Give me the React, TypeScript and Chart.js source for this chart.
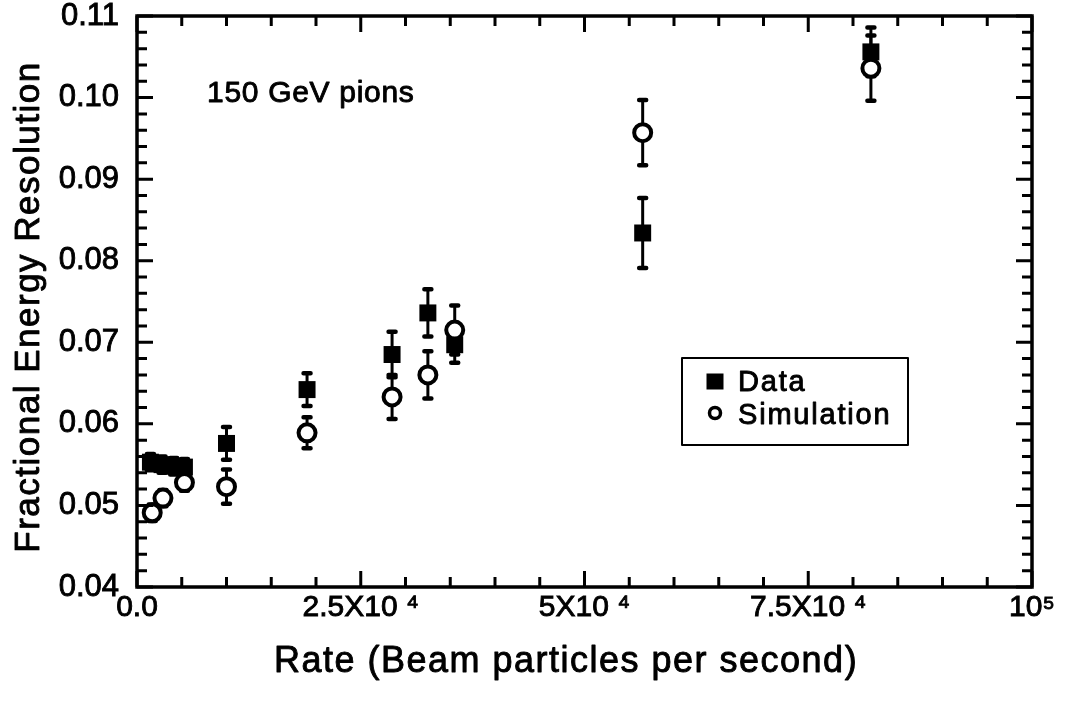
import React, { useEffect, useRef } from "react";
import { Chart, registerables } from "chart.js";

Chart.register(...registerables);

// ---- Data ----
const dataX = [1500, 2800, 4100, 5300, 10000, 19000, 28500, 32500, 35500, 56500, 82000];
const dataY = [0.0553, 0.055, 0.0548, 0.0547, 0.0576, 0.0642, 0.0685, 0.0736, 0.0697, 0.0834, 0.1056];
const dataErr = [0.001, 0.001, 0.001, 0.001, 0.002, 0.002, 0.0028, 0.0029, 0.0022, 0.0043, 0.003];

const simX = [1700, 2900, 5300, 10000, 19000, 28500, 32500, 35500, 56500, 82000];
const simY = [0.0491, 0.0509, 0.0528, 0.0523, 0.0589, 0.0633, 0.066, 0.0715, 0.0957, 0.1036];
const simErr = [0.001, 0.001, 0.001, 0.0021, 0.0019, 0.0027, 0.0029, 0.003, 0.004, 0.004];

const xTickValues = [0, 25000, 50000, 75000, 100000];
const xTickLabels = ["0.0", "2.5X10 \u2074", "5X10 \u2074", "7.5X10 \u2074", "10\u2075"];
const yTickValues = [0.04, 0.05, 0.06, 0.07, 0.08, 0.09, 0.1, 0.11];
const yTickLabels = ["0.04", "0.05", "0.06", "0.07", "0.08", "0.09", "0.10", "0.11"];
const xMinorStep = 5000;
const yMinorStep = 0.002;

const seriesNames = ["Data", "Simulation"];
const annotationText = "150 GeV pions";
const xTitle = "Rate (Beam particles per second)";
const yTitle = "Fractional Energy Resolution";

const FONT = "'Liberation Sans', Arial, Helvetica, sans-serif";

function boldText(ctx: CanvasRenderingContext2D, text: string, x: number, y: number) {
  ctx.fillText(text, x, y);
  ctx.strokeText(text, x, y);
}

export default function App() {
  const ref = useRef<HTMLCanvasElement>(null);

  useEffect(() => {
    document.body.style.margin = "0";
    const canvas = ref.current!;

    const errorBars = {
      id: "errorBars",
      beforeDatasetsDraw(chart: any) {
        const { ctx } = chart;
        const xs = chart.scales.x;
        const ys = chart.scales.y;
        chart.data.datasets.forEach((ds: any) => {
          const errs: number[] = ds.errors || [];
          ds.data.forEach((p: any, i: number) => {
            const e = errs[i] || 0;
            const px = xs.getPixelForValue(p.x);
            const y1 = ys.getPixelForValue(p.y + e);
            const y2 = ys.getPixelForValue(p.y - e);
            ctx.save();
            ctx.strokeStyle = "#000";
            ctx.lineWidth = 3;
            ctx.beginPath();
            ctx.moveTo(px, y1);
            ctx.lineTo(px, y2);
            ctx.stroke();
            ctx.lineWidth = 4.5;
            ctx.lineCap = "round";
            ctx.beginPath();
            ctx.moveTo(px - 3.5, y1);
            ctx.lineTo(px + 3.5, y1);
            ctx.moveTo(px - 3.5, y2);
            ctx.lineTo(px + 3.5, y2);
            ctx.stroke();
            ctx.restore();
          });
        });
      },
    };

    const frame = {
      id: "frame",
      afterDraw(chart: any) {
        const { ctx, chartArea } = chart;
        const { left, right, top, bottom } = chartArea;
        const xs = chart.scales.x;
        const ys = chart.scales.y;
        ctx.save();
        ctx.strokeStyle = "#000";
        ctx.lineWidth = 3.5;
        ctx.strokeRect(left, top, right - left, bottom - top);

        ctx.lineWidth = 3;
        // x ticks (bottom & top, inward)
        for (let k = 0; k * xMinorStep <= xs.max; k++) {
          const v = k * xMinorStep;
          const px = xs.getPixelForValue(v);
          const major = k % 5 === 0;
          const len = major ? 16 : 10;
          ctx.beginPath();
          ctx.moveTo(px, bottom);
          ctx.lineTo(px, bottom - len);
          ctx.moveTo(px, top);
          ctx.lineTo(px, top + len);
          ctx.stroke();
        }
        // y ticks (left & right, inward)
        const nY = Math.round((ys.max - ys.min) / yMinorStep);
        for (let k = 0; k <= nY; k++) {
          const v = ys.min + k * yMinorStep;
          const py = ys.getPixelForValue(v);
          const major = k % 5 === 0;
          const len = major ? 16 : 10;
          ctx.beginPath();
          ctx.moveTo(left, py);
          ctx.lineTo(left + len, py);
          ctx.moveTo(right, py);
          ctx.lineTo(right - len, py);
          ctx.stroke();
        }

        // Axis titles
        ctx.fillStyle = "#000";
        ctx.lineWidth = 0.9;
        ctx.lineJoin = "round";
        (ctx as any).letterSpacing = "1.5px";
        ctx.font = `36px ${FONT}`;
        ctx.textAlign = "center";
        ctx.textBaseline = "alphabetic";
        boldText(ctx, xTitle, 566, 672);

        ctx.save();
        ctx.font = `35px ${FONT}`;
        ctx.translate(39, 307);
        ctx.rotate(-Math.PI / 2);
        boldText(ctx, yTitle, 0, 0);
        ctx.restore();

        // Annotation
        (ctx as any).letterSpacing = "0.7px";
        ctx.font = `30px ${FONT}`;
        ctx.textAlign = "left";
        boldText(ctx, annotationText, 207, 102);

        // Legend
        ctx.lineWidth = 2;
        ctx.strokeRect(682, 358, 226, 87);
        ctx.fillRect(706.5, 373.5, 17, 16);
        ctx.lineWidth = 3.5;
        ctx.beginPath();
        ctx.arc(715, 413, 5.5, 0, Math.PI * 2);
        ctx.stroke();
        (ctx as any).letterSpacing = "1.8px";
        ctx.font = `29px ${FONT}`;
        ctx.lineWidth = 0.9;
        boldText(ctx, seriesNames[0], 738, 391);
        boldText(ctx, seriesNames[1], 738, 424);
        (ctx as any).letterSpacing = "0px";
        ctx.restore();
      },
    };

    const chart = new Chart(canvas, {
      type: "scatter",
      data: {
        datasets: [
          {
            label: seriesNames[0],
            data: dataX.map((x, i) => ({ x, y: dataY[i] })),
            errors: dataErr,
            pointStyle: "rect",
            pointRadius: 12,
            pointHoverRadius: 12,
            backgroundColor: "#000",
            borderColor: "#000",
            borderWidth: 0,
            order: 1,
          } as any,
          {
            label: seriesNames[1],
            data: simX.map((x, i) => ({ x, y: simY[i] })),
            errors: simErr,
            pointStyle: "circle",
            pointRadius: 8.5,
            pointHoverRadius: 8.5,
            backgroundColor: "#fff",
            borderColor: "#000",
            borderWidth: 4,
            order: 0,
          } as any,
        ],
      },
      options: {
        responsive: false,
        animation: false,
        devicePixelRatio: 1,
        events: [],
        layout: { padding: { left: 0, right: 35, top: 16, bottom: 0 }, autoPadding: false } as any,
        plugins: {
          legend: { display: false },
          tooltip: { enabled: false },
          title: { display: false },
        },
        scales: {
          x: {
            type: "linear",
            min: 0,
            max: 100000,
            grid: { display: false, drawTicks: false },
            border: { display: false },
            ticks: {
              padding: 3,
              color: "#000",
              autoSkip: false,
              maxRotation: 0,
              textStrokeColor: "#000",
              textStrokeWidth: 0.9,
              font: { family: FONT, size: 30 },
              callback: (v: any) => {
                const i = xTickValues.findIndex((t) => Math.abs(t - Number(v)) < 1e-6);
                return i >= 0 ? xTickLabels[i] : "";
              },
            } as any,
            afterBuildTicks: (s: any) => {
              s.ticks = xTickValues.map((v) => ({ value: v }));
            },
            afterFit: (s: any) => {
              s.height = 115;
              s.paddingLeft = 0;
              s.paddingRight = 0;
              s.paddingTop = 0;
              s.paddingBottom = 0;
            },
          },
          y: {
            type: "linear",
            min: 0.04,
            max: 0.11,
            grid: { display: false, drawTicks: false },
            border: { display: false },
            ticks: {
              padding: 18,
              color: "#000",
              autoSkip: false,
              textStrokeColor: "#000",
              textStrokeWidth: 0.9,
              font: { family: FONT, size: 31 },
              callback: (v: any) => {
                const i = yTickValues.findIndex((t) => Math.abs(t - Number(v)) < 1e-9);
                return i >= 0 ? yTickLabels[i] : "";
              },
            } as any,
            afterBuildTicks: (s: any) => {
              s.ticks = yTickValues.map((v) => ({ value: v }));
            },
            afterFit: (s: any) => {
              s.width = 137;
              s.paddingLeft = 0;
              s.paddingRight = 0;
              s.paddingTop = 0;
              s.paddingBottom = 0;
            },
          },
        },
      },
      plugins: [errorBars, frame],
    });

    return () => chart.destroy();
  }, []);

  return (
    <div style={{ width: 1067, height: 702, background: "#fff" }}>
      <canvas ref={ref} width={1067} height={702} />
    </div>
  );
}
